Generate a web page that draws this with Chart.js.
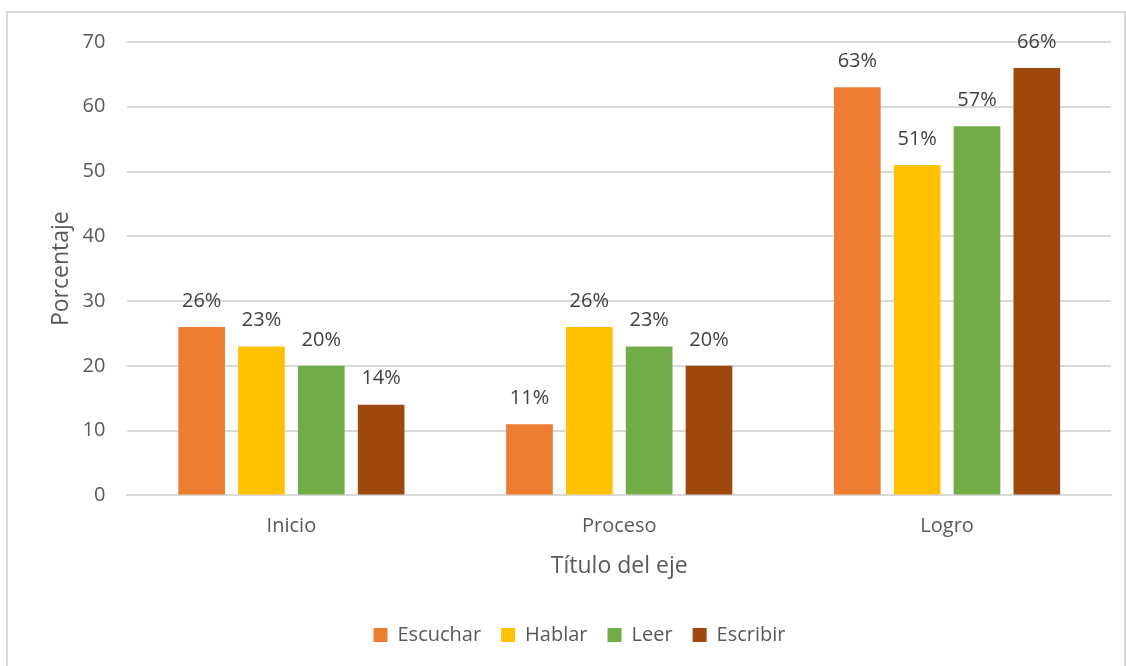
<!DOCTYPE html>
<html>
<head>
<meta charset="utf-8">
<script src="https://cdn.jsdelivr.net/npm/chart.js@4"></script>
<style>
  html, body { margin: 0; padding: 0; background: #fff; }
  #wrap { position: relative; width: 1126px; height: 666px; }
  #frame { position: absolute; left: 6px; top: 11px; width: 1120px; height: 660px; border: 2px solid #d9d9d9; box-sizing: border-box; }
  canvas { position: absolute; left: 0; top: 0; }
</style>
</head>
<body>
<div id="wrap">
  <div id="frame"></div>
  <canvas id="chart" width="1126" height="666"></canvas>
</div>
<script>
const categories = ['Inicio', 'Proceso', 'Logro'];
const seriesNames = ['Escuchar', 'Hablar', 'Leer', 'Escribir'];
const escuchar = [26, 11, 63];
const hablar = [23, 26, 51];
const leer = [20, 23, 57];
const escribir = [14, 20, 66];
const colors = ['#ed7d31', '#ffc000', '#70ad47', '#9e480e'];

const FONT = "'Open Sans', 'Liberation Sans', sans-serif";
const TEXT = '#595959';

// etiquetas de valor encima de cada barra
const valueLabels = {
  id: 'valueLabels',
  afterDatasetsDraw(chart) {
    const ctx = chart.ctx;
    ctx.save();
    ctx.font = '20px ' + FONT;
    ctx.fillStyle = '#404040';
    ctx.textAlign = 'center';
    ctx.textBaseline = 'middle';
    chart.data.datasets.forEach((ds, i) => {
      chart.getDatasetMeta(i).data.forEach((bar, j) => {
        ctx.fillText(ds.data[j] + '%', bar.x, bar.y - 26);
      });
    });
    ctx.restore();
  }
};

const allData = [escuchar, hablar, leer, escribir];

new Chart(document.getElementById('chart'), {
  type: 'bar',
  data: {
    labels: categories,
    datasets: seriesNames.map((name, i) => ({
      label: name,
      data: allData[i],
      backgroundColor: colors[i],
      categoryPercentage: 0.73,
      barPercentage: 0.78
    }))
  },
  options: {
    responsive: false,
    animation: false,
    layout: { padding: { top: 42, right: 15, left: 48, bottom: 11 } },
    plugins: {
      legend: {
        position: 'bottom',
        labels: {
          font: { size: 20, family: FONT },
          color: TEXT,
          boxWidth: 14,
          boxHeight: 14,
          padding: 20
        }
      },
      tooltip: { enabled: false }
    },
    scales: {
      x: {
        grid: { display: false },
        border: { color: '#d9d9d9', width: 2 },
        ticks: { font: { size: 20, family: FONT }, color: TEXT, padding: 11 },
        title: { display: true, text: 'Título del eje', font: { size: 23, family: FONT }, color: TEXT, padding: { top: 3, bottom: 25 } }
      },
      y: {
        min: 0,
        max: 70,
        ticks: { stepSize: 10, font: { size: 20, family: FONT }, color: TEXT, padding: 22 },
        grid: { color: '#d9d9d9', lineWidth: 2, drawTicks: false },
        border: { display: false },
        title: { display: true, text: 'Porcentaje', font: { size: 23, family: FONT }, color: TEXT, padding: { top: 0, bottom: -15 } }
      }
    }
  },
  plugins: [valueLabels]
});
</script>
</body>
</html>
